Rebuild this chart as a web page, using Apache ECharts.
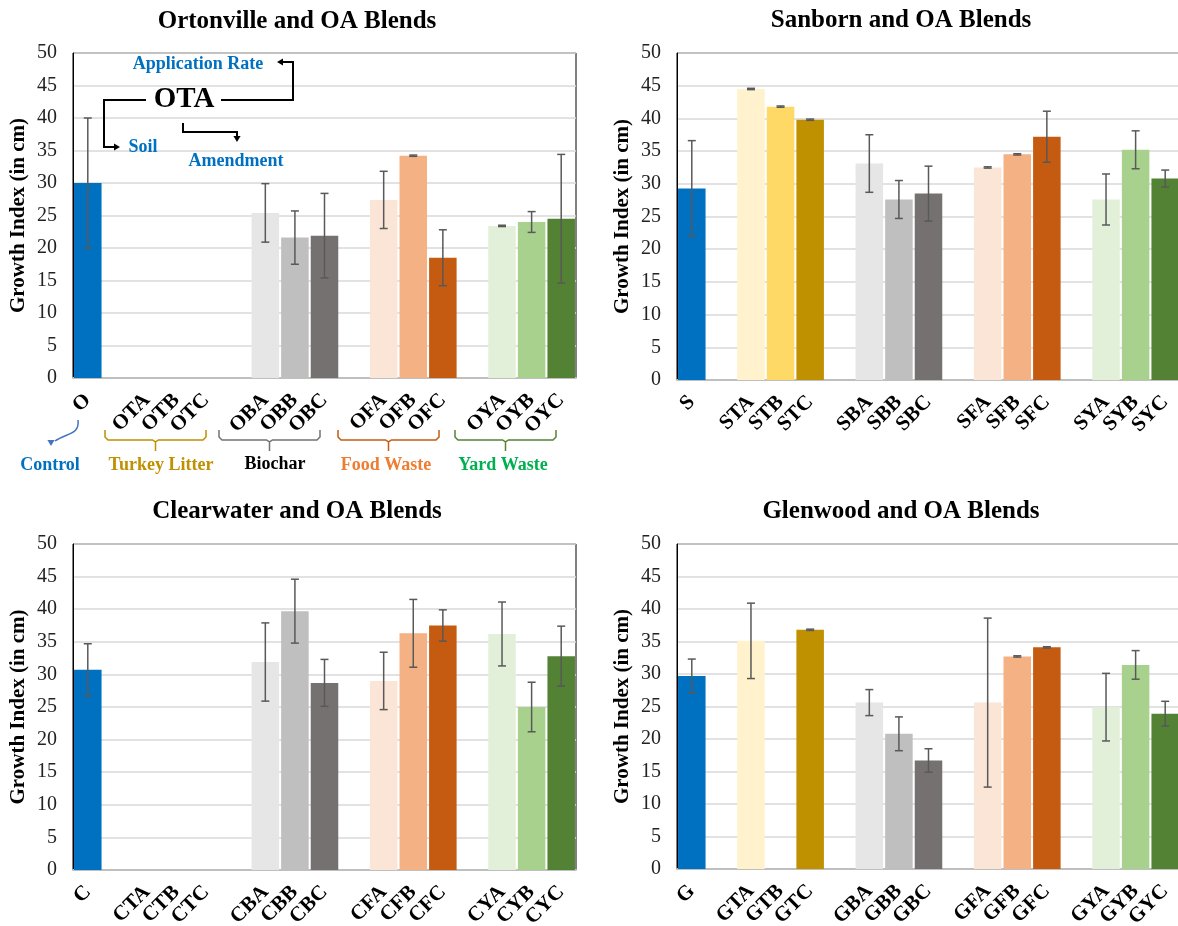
<!DOCTYPE html>
<html>
<head>
<meta charset="utf-8">
<title>Growth Index of Soil and OA Blends</title>
<script src="https://cdn.jsdelivr.net/npm/echarts@6/dist/echarts.min.js"></script>
<style>
  html, body { margin: 0; padding: 0; background: #fff; }
  #chart { width: 1178px; height: 926px; }
</style>
</head>
<body>
<div id="chart"></div>
<script>
// Treatment order: control soil, turkey litter (A,B,C), biochar, food waste, yard waste.
// Empty strings are spacer slots between amendment groups.
const ortCategories = ['O', '', 'OTA', 'OTB', 'OTC', '', 'OBA', 'OBB', 'OBC', '', 'OFA', 'OFB', 'OFC', '', 'OYA', 'OYB', 'OYC'];
const sanCategories = ['S', '', 'STA', 'STB', 'STC', '', 'SBA', 'SBB', 'SBC', '', 'SFA', 'SFB', 'SFC', '', 'SYA', 'SYB', 'SYC'];
const cleCategories = ['C', '', 'CTA', 'CTB', 'CTC', '', 'CBA', 'CBB', 'CBC', '', 'CFA', 'CFB', 'CFC', '', 'CYA', 'CYB', 'CYC'];
const glnCategories = ['G', '', 'GTA', 'GTB', 'GTC', '', 'GBA', 'GBB', 'GBC', '', 'GFA', 'GFB', 'GFC', '', 'GYA', 'GYB', 'GYC'];

// Mean growth index (cm); null = no measurement
const ortMean = [30.0, null, null, null, null, null, 25.4, 21.6, 21.9, null, 27.4, 34.2, 18.5, null, 23.4, 24.0, 24.5];
const sanMean = [29.3, null, 44.5, 41.8, 39.8, null, 33.1, 27.6, 28.5, null, 32.5, 34.5, 37.2, null, 27.6, 35.2, 30.8];
const cleMean = [30.7, null, null, null, null, null, 31.9, 39.7, 28.7, null, 29.0, 36.3, 37.5, null, 36.2, 25.0, 32.8];
const glnMean = [29.7, null, 35.1, null, 36.8, null, 25.6, 20.8, 16.7, null, 25.6, 32.7, 34.1, null, 24.9, 31.4, 23.9];

// Standard deviation (cm)
const ortErr = [10.0, null, null, null, null, null, 4.5, 4.1, 6.5, null, 4.4, 0.1, 4.3, null, 0.1, 1.6, 9.9];
const sanErr = [7.3, null, 0.1, 0.1, 0.1, null, 4.4, 2.9, 4.2, null, 0.1, 0.1, 3.9, null, 3.9, 2.9, 1.3];
const cleErr = [4.0, null, null, null, null, null, 6.0, 4.9, 3.6, null, 4.4, 5.2, 2.4, null, 4.9, 3.8, 4.6];
const glnErr = [2.6, null, 5.8, null, 0.1, null, 2.0, 2.6, 1.8, null, 13.0, 0.1, 0.1, null, 5.2, 2.2, 1.9];

const panelTitles = ['Ortonville and OA Blends', 'Sanborn and OA Blends', 'Clearwater and OA Blends', 'Glenwood and OA Blends'];
const yTicks = { min: 0, max: 50, step: 5 };

// Bar colours per slot
const slotColors = ['#0070C0', null, '#FFF2CC', '#FFD966', '#BF9000', null, '#E6E6E6', '#BFBFBF', '#767171', null,
                    '#FBE5D6', '#F4B183', '#C55A11', null, '#E2F0D9', '#A9D18E', '#548235'];

const panels = [
  { cats: ortCategories, mean: ortMean, err: ortErr },
  { cats: sanCategories, mean: sanMean, err: sanErr },
  { cats: cleCategories, mean: cleMean, err: cleErr },
  { cats: glnCategories, mean: glnMean, err: glnErr }
];

const grids = [
  { left: 73, top: 53, width: 503, height: 325 },
  { left: 677, top: 53, width: 503, height: 327 },
  { left: 73, top: 544, width: 503, height: 326 },
  { left: 677, top: 544, width: 503, height: 325 }
];
const titleCenters = [[292, 4], [896, 3], [292, 494], [896, 494]];

const SERIF = '"Liberation Serif", "Times New Roman", serif';

const option = {
  backgroundColor: '#fff',
  animation: false,
  title: panelTitles.map((t, i) => ({
    text: t,
    left: titleCenters[i][0],
    top: titleCenters[i][1],
    textAlign: 'center',
    textStyle: { fontFamily: SERIF, fontWeight: 'bold', fontSize: 25, color: '#000' }
  })),
  grid: grids.map(g => Object.assign({
    show: true, borderColor: '#000', borderWidth: 1, backgroundColor: 'transparent',
    containLabel: false, outerBoundsMode: 'none'
  }, g)),
  xAxis: panels.map((p, i) => ({
    type: 'category',
    gridIndex: i,
    data: p.cats,
    axisTick: { show: false },
    axisLine: { show: true, lineStyle: { color: '#BFBFBF', width: 2 } },
    axisLabel: {
      interval: 0, rotate: 45, margin: 19,
      fontFamily: SERIF, fontWeight: 'bold', fontSize: 21, color: '#000'
    }
  })),
  yAxis: panels.map((p, i) => ({
    type: 'value',
    gridIndex: i,
    min: yTicks.min, max: yTicks.max, interval: yTicks.step,
    name: 'Growth Index (in cm)',
    nameLocation: 'middle',
    nameGap: 44,
    nameRotate: 90,
    nameTextStyle: { fontFamily: SERIF, fontWeight: 'bold', fontSize: 21, color: '#000' },
    axisLine: { show: true, lineStyle: { color: '#000', width: 1 } },
    axisTick: { show: false },
    axisLabel: { margin: 16, fontFamily: SERIF, fontSize: 20, color: '#222' },
    splitLine: { lineStyle: { color: '#D9D9D9', width: 1.5 } }
  })),
  series: []
};

panels.forEach((p, i) => {
  option.series.push({
    type: 'bar',
    xAxisIndex: i, yAxisIndex: i,
    barCategoryGap: '7%',
    data: p.mean.map((v, j) => v == null ? '-' : { value: v, itemStyle: { color: slotColors[j] } })
  });
  const errData = [];
  p.mean.forEach((v, j) => { if (v != null && p.err[j] != null) errData.push([j, v, p.err[j]]); });
  option.series.push({
    type: 'custom',
    xAxisIndex: i, yAxisIndex: i,
    z: 5,
    data: errData,
    renderItem: (params, api) => {
      const x = api.value(0), m = api.value(1), e = api.value(2);
      const hi = api.coord([x, m + e]);
      const lo = api.coord([x, m - e]);
      const cap = 4;
      const style = { stroke: '#595959', lineWidth: 1.5 };
      return {
        type: 'group',
        children: [
          { type: 'line', shape: { x1: hi[0], y1: hi[1], x2: lo[0], y2: lo[1] }, style },
          { type: 'line', shape: { x1: hi[0] - cap, y1: hi[1], x2: hi[0] + cap, y2: hi[1] }, style },
          { type: 'line', shape: { x1: lo[0] - cap, y1: lo[1], x2: lo[0] + cap, y2: lo[1] }, style }
        ]
      };
    }
  });
});

// Naming key and group braces for the Ortonville panel
const keyBlue = '#0070C0';
const arrowStyle = { stroke: '#000', lineWidth: 2, fill: null };
function arrowHead(tip, dir, color) {
  const s = 6;
  let pts;
  if (dir === 'left') pts = [[tip[0], tip[1]], [tip[0] + s, tip[1] - s * 0.6], [tip[0] + s, tip[1] + s * 0.6]];
  if (dir === 'right') pts = [[tip[0], tip[1]], [tip[0] - s, tip[1] - s * 0.6], [tip[0] - s, tip[1] + s * 0.6]];
  if (dir === 'down') pts = [[tip[0], tip[1]], [tip[0] - s * 0.6, tip[1] - s], [tip[0] + s * 0.6, tip[1] - s]];
  return { type: 'polygon', shape: { points: pts }, style: { fill: color || '#000' }, z: 10 };
}
function brace(x1, x2, color) {
  const xm = (x1 + x2) / 2, yt = 430, yb = 440, r = 3;
  return {
    type: 'polyline', z: 10,
    shape: { points: [[x1, yt], [x1, yb - r], [x1 + r, yb], [xm - r, yb], [xm, yb + 2], [xm, 451], [xm, yb + 2], [xm + r, yb], [x2 - r, yb], [x2, yb - r], [x2, yt]] },
    style: { stroke: color, lineWidth: 1.5, fill: null }
  };
}
function label(text, x, y, color, size, align) {
  return {
    type: 'text', z: 10, x: x, y: y,
    style: { text: text, fill: color, font: 'bold ' + size + 'px ' + SERIF, textAlign: align || 'center', textVerticalAlign: 'middle' }
  };
}

option.graphic = [
  label('Application Rate', 198, 64, keyBlue, 18),
  label('OTA', 184, 100, '#000', 29),
  label('Soil', 143, 147, keyBlue, 18),
  label('Amendment', 236, 161, keyBlue, 18),
  { type: 'polyline', z: 10, shape: { points: [[221, 100], [293, 100], [293, 62], [283, 62]] }, style: arrowStyle },
  arrowHead([277, 62], 'left'),
  { type: 'polyline', z: 10, shape: { points: [[146, 100], [104, 100], [104, 147], [114, 147]] }, style: arrowStyle },
  arrowHead([120, 147], 'right'),
  { type: 'polyline', z: 10, shape: { points: [[183, 123], [183, 132], [237, 132], [237, 136]] }, style: arrowStyle },
  arrowHead([237, 142], 'down'),

  { type: 'bezierCurve', z: 10, shape: { x1: 78, y1: 420, x2: 55, y2: 441, cpx1: 80, cpy1: 435, cpx2: 66, cpy2: 433 }, style: { stroke: '#4472C4', lineWidth: 1.5, fill: null } },
  arrowHead([51, 446], 'down', '#4472C4'),
  label('Control', 50, 465, keyBlue, 18),

  brace(105, 206, '#BF9000'),
  brace(219, 320, '#767171'),
  brace(338, 439, '#C55A11'),
  brace(455, 556, '#548235'),
  label('Turkey Litter', 161, 465, '#BF9000', 18),
  label('Biochar', 275, 464, '#000', 18),
  label('Food Waste', 386, 465, '#ED7D31', 18),
  label('Yard Waste', 503, 465, '#00B050', 18)
];

const chart = echarts.init(document.getElementById('chart'), null, { renderer: 'canvas' });
chart.setOption(option);
</script>
</body>
</html>
